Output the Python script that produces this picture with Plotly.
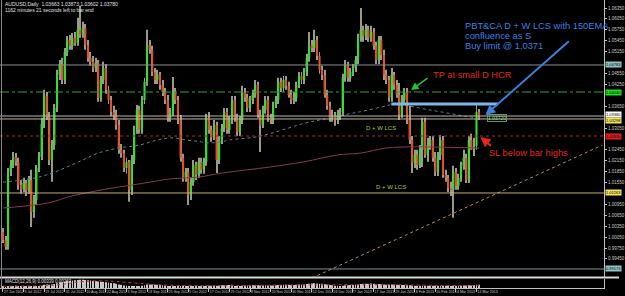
import plotly.graph_objects as go

# ---------------- data (AUDUSD daily) ----------------
opens = [1.0019,0.9997,0.9978,1.0184,1.0203,1.0225,1.0212,1.0148,1.0137,1.0154,
         1.0132,1.0162,1.0074,1.0107,1.0195,1.0225,1.0316,1.0393,1.0335,1.0217,
         1.0258,1.0360,1.0451,1.0481,1.0437,1.0514,1.0547,1.0531,1.0553,1.0539,
         1.0575,1.0561,1.0580,1.0533,1.0498,1.0487,1.0470,1.0484,1.0388,1.0437,
         1.0470,1.0410,1.0382,1.0349,1.0338,1.0313,1.0245,1.0236,1.0195,1.0212,
         1.0135,1.0217,1.0300,1.0355,1.0300,1.0382,1.0432,1.0533,1.0520,1.0459,
         1.0437,1.0451,1.0423,1.0404,1.0382,1.0333,1.0349,1.0404,1.0382,1.0327,
         1.0223,1.0168,1.0184,1.0121,1.0157,1.0203,1.0176,1.0212,1.0190,1.0212,
         1.0333,1.0300,1.0280,1.0313,1.0217,1.0272,1.0305,1.0349,1.0300,1.0327,
         1.0382,1.0333,1.0294,1.0327,1.0404,1.0388,1.0360,1.0382,1.0396,1.0423,
         1.0341,1.0313,1.0355,1.0382,1.0333,1.0327,1.0368,1.0382,1.0432,1.0415,
         1.0437,1.0421,1.0396,1.0382,1.0388,1.0423,1.0448,1.0437,1.0459,1.0498,
         1.0533,1.0525,1.0547,1.0503,1.0465,1.0451,1.0396,1.0366,1.0333,1.0338,
         1.0327,1.0338,1.0349,1.0443,1.0478,1.0443,1.0459,1.0470,1.0492,1.0553,
         1.0575,1.0558,1.0575,1.0553,1.0569,1.0531,1.0492,1.0547,1.0506,1.0451,
         1.0437,1.0388,1.0451,1.0423,1.0396,1.0341,1.0382,1.0404,1.0327,1.0272,
         1.0209,1.0231,1.0203,1.0245,1.0322,1.0231,1.0258,1.0272,1.0223,1.0184,
         1.0231,1.0272,1.0176,1.0168,1.0140,1.0135,1.0184,1.0146,1.0168,1.0201,
         1.0223,1.0162,1.0272,1.0245,1.0256,1.0349]
highs = [1.0030,1.0008,1.0195,1.0217,1.0239,1.0236,1.0223,1.0162,1.0168,1.0162,
         1.0173,1.0190,1.0121,1.0203,1.0239,1.0333,1.0410,1.0404,1.0349,1.0272,
         1.0371,1.0465,1.0492,1.0498,1.0525,1.0558,1.0561,1.0566,1.0569,1.0608,
         1.0641,1.0597,1.0591,1.0547,1.0514,1.0503,1.0498,1.0492,1.0448,1.0487,
         1.0481,1.0421,1.0393,1.0366,1.0355,1.0327,1.0261,1.0245,1.0223,1.0217,
         1.0231,1.0311,1.0368,1.0366,1.0393,1.0443,1.0575,1.0547,1.0531,1.0470,
         1.0465,1.0459,1.0437,1.0415,1.0396,1.0360,1.0445,1.0415,1.0393,1.0341,
         1.0234,1.0195,1.0195,1.0168,1.0217,1.0212,1.0223,1.0223,1.0223,1.0344,
         1.0349,1.0311,1.0327,1.0322,1.0283,1.0316,1.0360,1.0360,1.0338,1.0393,
         1.0393,1.0344,1.0338,1.0421,1.0415,1.0399,1.0393,1.0410,1.0437,1.0432,
         1.0355,1.0366,1.0393,1.0393,1.0344,1.0377,1.0393,1.0443,1.0443,1.0448,
         1.0448,1.0432,1.0410,1.0404,1.0432,1.0459,1.0459,1.0470,1.0509,1.0569,
         1.0547,1.0575,1.0558,1.0514,1.0476,1.0465,1.0410,1.0377,1.0355,1.0349,
         1.0355,1.0360,1.0454,1.0492,1.0487,1.0470,1.0481,1.0503,1.0564,1.0635,
         1.0586,1.0591,1.0586,1.0586,1.0580,1.0542,1.0558,1.0558,1.0520,1.0465,
         1.0448,1.0470,1.0459,1.0437,1.0429,1.0396,1.0415,1.0415,1.0366,1.0283,
         1.0245,1.0245,1.0258,1.0333,1.0333,1.0278,1.0283,1.0283,1.0239,1.0239,
         1.0286,1.0283,1.0190,1.0176,1.0157,1.0201,1.0195,1.0179,1.0212,1.0245,
         1.0234,1.0283,1.0289,1.0278,1.0371,1.0357]
lows = [0.9989,0.9970,0.9970,1.0173,1.0195,1.0201,1.0135,1.0124,1.0129,1.0118,
        1.0124,1.0033,1.0058,1.0093,1.0184,1.0217,1.0305,1.0327,1.0203,1.0157,
        1.0245,1.0349,1.0437,1.0426,1.0426,1.0503,1.0520,1.0520,1.0531,1.0531,
        1.0553,1.0553,1.0520,1.0487,1.0476,1.0459,1.0459,1.0377,1.0377,1.0426,
        1.0399,1.0371,1.0338,1.0327,1.0300,1.0234,1.0223,1.0184,1.0179,1.0102,
        1.0121,1.0206,1.0289,1.0289,1.0289,1.0371,1.0421,1.0509,1.0448,1.0426,
        1.0426,1.0410,1.0393,1.0371,1.0322,1.0322,1.0338,1.0371,1.0316,1.0212,
        1.0157,1.0157,1.0093,1.0107,1.0146,1.0162,1.0168,1.0179,1.0179,1.0201,
        1.0289,1.0267,1.0272,1.0181,1.0206,1.0261,1.0294,1.0289,1.0289,1.0316,
        1.0322,1.0283,1.0283,1.0316,1.0377,1.0349,1.0349,1.0371,1.0388,1.0333,
        1.0239,1.0305,1.0344,1.0322,1.0316,1.0316,1.0360,1.0371,1.0404,1.0404,
        1.0410,1.0388,1.0371,1.0371,1.0377,1.0415,1.0426,1.0426,1.0448,1.0487,
        1.0514,1.0514,1.0492,1.0454,1.0437,1.0388,1.0355,1.0322,1.0322,1.0311,
        1.0316,1.0327,1.0338,1.0432,1.0432,1.0432,1.0448,1.0459,1.0481,1.0542,
        1.0542,1.0547,1.0542,1.0542,1.0520,1.0481,1.0481,1.0492,1.0437,1.0426,
        1.0377,1.0377,1.0410,1.0388,1.0327,1.0333,1.0371,1.0316,1.0261,1.0181,
        1.0195,1.0190,1.0195,1.0198,1.0223,1.0212,1.0245,1.0212,1.0173,1.0173,
        1.0217,1.0168,1.0157,1.0129,1.0118,1.0058,1.0135,1.0135,1.0157,1.0190,
        1.0154,1.0154,1.0245,1.0228,1.0245,1.0327]
closes = [0.9997,0.9978,1.0184,1.0203,1.0225,1.0212,1.0148,1.0137,1.0154,1.0132,
          1.0162,1.0074,1.0107,1.0195,1.0225,1.0316,1.0393,1.0335,1.0217,1.0258,
          1.0360,1.0451,1.0481,1.0437,1.0514,1.0547,1.0531,1.0553,1.0539,1.0575,
          1.0561,1.0580,1.0533,1.0498,1.0487,1.0470,1.0484,1.0388,1.0437,1.0470,
          1.0410,1.0382,1.0349,1.0338,1.0313,1.0245,1.0236,1.0195,1.0212,1.0135,
          1.0217,1.0300,1.0355,1.0300,1.0382,1.0432,1.0533,1.0520,1.0459,1.0437,
          1.0451,1.0423,1.0404,1.0382,1.0333,1.0349,1.0404,1.0382,1.0327,1.0223,
          1.0168,1.0184,1.0121,1.0157,1.0203,1.0176,1.0212,1.0190,1.0212,1.0333,
          1.0300,1.0280,1.0313,1.0217,1.0272,1.0305,1.0349,1.0300,1.0327,1.0382,
          1.0333,1.0294,1.0327,1.0404,1.0388,1.0360,1.0382,1.0396,1.0423,1.0341,
          1.0313,1.0355,1.0382,1.0333,1.0327,1.0368,1.0382,1.0432,1.0415,1.0437,
          1.0421,1.0396,1.0382,1.0388,1.0423,1.0448,1.0437,1.0459,1.0498,1.0533,
          1.0525,1.0547,1.0503,1.0465,1.0451,1.0396,1.0366,1.0333,1.0338,1.0327,
          1.0338,1.0349,1.0443,1.0478,1.0443,1.0459,1.0470,1.0492,1.0553,1.0575,
          1.0558,1.0575,1.0553,1.0569,1.0531,1.0492,1.0547,1.0506,1.0451,1.0437,
          1.0388,1.0451,1.0423,1.0396,1.0341,1.0382,1.0404,1.0327,1.0272,1.0209,
          1.0231,1.0203,1.0245,1.0322,1.0231,1.0258,1.0272,1.0223,1.0184,1.0231,
          1.0272,1.0176,1.0168,1.0140,1.0135,1.0184,1.0146,1.0168,1.0201,1.0223,
          1.0162,1.0272,1.0245,1.0256,1.0349,1.0335]

date_tick_bars = [0, 8, 16, 24, 32, 40, 48, 56, 64, 72, 80, 88, 96, 104, 112,
                  120, 128, 136, 144, 152, 160, 168, 176, 184]
date_tick_labels = ["27 Jun 2012", "9 Jul 2012", "19 Jul 2012", "31 Jul 2012",
                    "10 Aug 2012", "22 Aug 2012", "3 Sep 2012", "13 Sep 2012",
                    "25 Sep 2012", "5 Oct 2012", "17 Oct 2012", "29 Oct 2012",
                    "8 Nov 2012", "20 Nov 2012", "30 Nov 2012", "12 Dec 2012",
                    "24 Dec 2012", "7 Jan 2013", "17 Jan 2013", "29 Jan 2013",
                    "8 Feb 2013", "20 Feb 2013", "4 Mar 2013", "14 Mar 2013"]

# right-axis price labels (those hidden behind the level tags are left out)
price_ticks = [1.0635, 1.0605, 1.0575, 1.0545, 1.0515, 1.0455, 1.0425,
               1.0365, 1.0305, 1.0245, 1.0215, 1.0185,
               1.0155, 1.0095, 1.0065, 1.0035, 1.0005, 0.9975, 0.9945]

# 150 EMA and 200 SMA, read at sample bars
ema_bars = [0, 12, 19, 25, 31, 37, 45, 53, 60, 66, 71, 76, 80, 85, 88, 98, 104,
            111, 117, 123, 130, 136, 139, 149, 152, 158, 164, 172, 180, 185]
ema_vals = [1.0156, 1.0167, 1.0181, 1.0198, 1.0217, 1.0236, 1.0250, 1.0258, 1.0272,
            1.0278, 1.0272, 1.0268, 1.0264, 1.0267, 1.0272, 1.0280, 1.0290, 1.0305,
            1.0318, 1.0327, 1.0338, 1.0346, 1.0350, 1.0366, 1.0371, 1.0365, 1.0357,
            1.0347, 1.0337, 1.0332]
sma_bars = [0, 12, 19, 25, 32, 40, 50, 57, 65, 76, 85, 104, 117, 130, 139, 149,
            158, 164, 185]
sma_vals = [1.0085, 1.0093, 1.0101, 1.0115, 1.0126, 1.0137, 1.0148, 1.0156, 1.0165,
            1.0170, 1.0181, 1.0198, 1.0212, 1.0231, 1.0236, 1.0250, 1.0253, 1.0253,
            1.0250]

# MACD(12,26,9) main histogram and signal
macd = [0.0012,0.0010,0.0014,0.0018,0.0021,0.0023,0.0021,0.0019,0.0018,0.0016,
        0.0017,0.0012,0.0011,0.0015,0.0019,0.0026,0.0034,0.0037,0.0035,0.0036,
        0.0042,0.0050,0.0057,0.0061,0.0067,0.0073,0.0077,0.0080,0.0082,0.0085,
        0.0086,0.0087,0.0085,0.0082,0.0079,0.0076,0.0074,0.0068,0.0066,0.0065,
        0.0062,0.0058,0.0053,0.0049,0.0045,0.0038,0.0033,0.0027,0.0023,0.0017,
        0.0016,0.0018,0.0021,0.0022,0.0025,0.0029,0.0036,0.0038,0.0037,0.0035,
        0.0034,0.0031,0.0029,0.0026,0.0022,0.0020,0.0021,0.0020,0.0017,0.0012,
        0.0024,0.0022,0.0021,0.0020,0.0020,0.0021,0.0021,0.0022,0.0022,0.0024,
        0.0025,0.0025,0.0026,0.0025,0.0026,0.0028,0.0030,0.0031,0.0032,0.0034,
        0.0022,0.0021,0.0022,0.0025,0.0026,0.0026,0.0027,0.0028,0.0030,0.0028,
        0.0026,0.0027,0.0028,0.0027,0.0026,0.0027,0.0028,0.0031,0.0032,0.0034,
        0.0034,0.0033,0.0032,0.0032,0.0034,0.0036,0.0037,0.0038,0.0041,0.0045,
        0.0047,0.0049,0.0048,0.0046,0.0044,0.0040,0.0036,0.0031,0.0028,0.0025,
        0.0023,0.0022,0.0025,0.0028,0.0029,0.0031,0.0032,0.0034,0.0038,0.0042,
        0.0044,0.0046,0.0046,0.0047,0.0046,0.0043,0.0043,0.0041,0.0037,0.0034,
        0.0036,0.0036,0.0035,0.0034,0.0032,0.0031,0.0031,0.0030,0.0028,0.0026,
        0.0025,0.0024,0.0024,0.0025,0.0025,0.0025,0.0025,0.0024,0.0023,0.0023,
        0.0024,0.0023,0.0023,0.0022,0.0022,0.0023,0.0023,0.0023,0.0024,0.0026,
        0.0026,0.0028,0.0029,0.0030,0.0033,0.0034]
signal_bars = [0, 20, 30, 40, 48, 60, 75, 90, 110, 130, 150, 170, 185]
signal_vals = [0.0020, 0.0030, 0.0065, 0.0075, 0.0060, 0.0035, 0.0025, 0.0026,
               0.0031, 0.0034, 0.0035, 0.0027, 0.0026]

# horizontal levels drawn on the chart
level_prices = [1.04783, 1.0404, 1.0338, 1.03298, 1.0283, 1.01263, 0.99173]
level_colors = ['#8a8f8f', '#2fa62f', '#b8b8b8', '#c8b890', '#b02828', '#c0ae80', '#6f9a9a']
level_dashes = ['solid', 'dashdot', 'solid', 'solid', 'dot', 'solid', 'solid']
level_tags = ['#8fc4c4', '#22dd22', '#ffffff', '#f2e35a', '#e02020', '#f2e35a', '#8fc4c4']
level_tag_shift = [0, 0, 1.8, -1.8, 0, 0, 0]

buy_limit = 1.0371
buy_limit_bars = [150.9, 192.4]
trend_bars = [120.1, 232.9]
trend_prices = [0.98925, 1.0258]

# ---------------- figure ----------------
W, H = 625, 296
GREEN, RED, WICK = '#35dc35', '#e2502c', '#9a9a88'
n = len(closes)
bars = list(range(n))
body_base = [min(o, c) for o, c in zip(opens, closes)]
body_h = [max(abs(c - o), 0.00006) for o, c in zip(opens, closes)]
body_col = [GREEN if c >= o else RED for o, c in zip(opens, closes)]

XR = [-1.155, 233.6]
fig = go.Figure()
fig.add_trace(go.Scatter(x=trend_bars, y=trend_prices, mode='lines',
                         line=dict(color='#b98b5e', width=1, dash='dot'), hoverinfo='skip'))
fig.add_trace(go.Scatter(x=ema_bars, y=ema_vals, mode='lines', line_shape='spline',
                         line=dict(color='#4f8a84', width=1, dash='dot'), hoverinfo='skip'))
fig.add_trace(go.Scatter(x=sma_bars, y=sma_vals, mode='lines', line_shape='spline',
                         line=dict(color='#8a3a50', width=1), hoverinfo='skip'))
fig.add_trace(go.Bar(x=bars, y=[h - l for h, l in zip(highs, lows)], base=lows, width=0.38,
                     marker=dict(color=WICK, line=dict(width=0)), hoverinfo='skip'))
fig.add_trace(go.Bar(x=bars, y=body_h, base=body_base, width=0.8,
                     marker=dict(color=body_col, line=dict(width=0)), hoverinfo='skip'))
fig.add_trace(go.Scatter(x=buy_limit_bars, y=[buy_limit, buy_limit], mode='lines',
                         line=dict(color='#7fb6ea', width=3), hoverinfo='skip'))
# MACD panel
fig.add_trace(go.Bar(x=bars, y=macd, width=0.35, marker=dict(color='#c8c8c8', line=dict(width=0)),
                     xaxis='x2', yaxis='y2', hoverinfo='skip'))
fig.add_trace(go.Scatter(x=signal_bars, y=signal_vals, mode='lines', line_shape='spline',
                         line=dict(color='#d03030', width=1, dash='dot'),
                         xaxis='x2', yaxis='y2', hoverinfo='skip'))

shapes = []
for p, col, d in zip(level_prices, level_colors, level_dashes):
    shapes.append(dict(type='line', xref='x domain', yref='y', x0=0, x1=1, y0=p, y1=p,
                       line=dict(color=col, width=1, dash=d)))
# panel separator and frame
shapes.append(dict(type='line', xref='paper', yref='paper', x0=0, x1=1,
                   y0=1 - 277.5 / H, y1=1 - 277.5 / H, line=dict(color='#d8d8d8', width=2)))
shapes.append(dict(type='line', xref='paper', yref='paper', x0=1.5 / W, x1=1.5 / W,
                   y0=1 - 289 / H, y1=1, line=dict(color='#8a8a8a', width=1)))

FONT = 'Liberation Sans, Arial, sans-serif'
ann = []
def txt(x, y, s, col, size, xanchor='left'):
    ann.append(dict(x=x, y=y, xref='x', yref='y', text=s, showarrow=False, xanchor=xanchor,
                    yanchor='middle', font=dict(color=col, size=size, family=FONT)))
def bx(px):
    return (px - 3) / 2.598
def py(pyy):
    return 1.0657 - 0.000275 * pyy

BLUE = '#3d80e0'
txt(bx(467), py(26), 'PBT&CA D + W LCS with 150EMA', BLUE, 9.3)
txt(bx(467), py(36), 'confluence as S', BLUE, 9.3)
txt(bx(467), py(46), 'Buy limit @ 1.0371', BLUE, 9.3)
txt(bx(435), py(75), 'TP at small D HCR', '#e2281f', 9.3)
txt(bx(492), py(153), 'SL below bar highs', '#e2281f', 9.3)
txt(bx(367), py(128), 'D + W LCS', '#a6c83a', 6)
txt(bx(378), py(187), 'D + W LCS', '#a6c83a', 6)
ann.append(dict(x=bx(492), y=py(118), xref='x', yref='y', text='1.03720', showarrow=False,
                xanchor='left', font=dict(color='#9ad29a', size=5, family=FONT),
                bordercolor='#5a9a5a', borderwidth=1, borderpad=0))

def arrow(tx, ty, ax, ay, col, w):
    ann.append(dict(x=bx(tx), y=py(ty), xref='x', yref='y', text='', showarrow=True,
                    ax=ax, ay=ay, arrowcolor=col, arrowwidth=w, arrowhead=2, arrowsize=1))
arrow(415, 90, 18, -13, '#28c828', 1.5)
arrow(490, 115, 85, -75, BLUE, 2)
arrow(485, 137, 12, 10, '#e2281f', 2)

# right-axis level tags
for p, col, sh in zip(level_prices, level_tags, level_tag_shift):
    ann.append(dict(x=611 / W, y=p, xref='paper', yref='y', text=f'{p:.5f}', showarrow=False,
                    xanchor='left', yanchor='middle', bgcolor=col, yshift=sh,
                    font=dict(color='#000000', size=4, family=FONT), borderpad=0))

# header texts
for s, yy in [('AUDUSD,Daily  1.03663 1.03873 1.03602 1.03780', 4),
              ('1162 minutes 21 seconds left to bar end', 9.5)]:
    ann.append(dict(x=3 / W, y=1 - yy / H, xref='paper', yref='paper', text=s, showarrow=False,
                    xanchor='left', yanchor='middle', font=dict(color='#e0e0e0', size=5, family=FONT)))
ann.append(dict(x=3 / W, y=1 - 281.5 / H, xref='paper', yref='paper',
                text='MACD(12,26,9) 0.00339 0.00262', showarrow=False, xanchor='left',
                yanchor='middle', font=dict(color='#e0e0e0', size=4.5, family=FONT)))

fig.update_layout(
    width=W, height=H, margin=dict(l=0, r=0, t=0, b=0),
    paper_bgcolor='#000000', plot_bgcolor='#000000', showlegend=False,
    barmode='overlay', shapes=shapes, annotations=ann,
    xaxis=dict(domain=[0, 610 / W], range=XR, showticklabels=False, showgrid=False,
               zeroline=False, anchor='y'),
    yaxis=dict(domain=[1 - 277 / H, 1], range=[py(277), py(0)], side='right',
               tickvals=price_ticks, tickformat='.5f', showgrid=False, zeroline=False,
               ticks='outside', ticklen=2, tickcolor='#c0c0c0',
               tickfont=dict(color='#c8c8c8', size=4.5, family=FONT),
               showline=True, linecolor='#c0c0c0', linewidth=1, anchor='x'),
    xaxis2=dict(domain=[0, 610 / W], range=XR, matches='x', anchor='y2',
                tickvals=date_tick_bars, ticktext=date_tick_labels, tickangle=0,
                ticklabelposition='outside right', ticks='outside', ticklen=3,
                tickcolor='#c0c0c0', tickfont=dict(color='#c8c8c8', size=3.6, family=FONT),
                showline=True, linecolor='#c0c0c0', showgrid=False, zeroline=False),
    yaxis2=dict(domain=[1 - 288 / H, 1 - 279 / H], range=[0, 0.0095], side='right',
                showticklabels=False, showgrid=False, zeroline=False,
                showline=True, linecolor='#c0c0c0', anchor='x2'),
)
fig.write_html('out.html')
